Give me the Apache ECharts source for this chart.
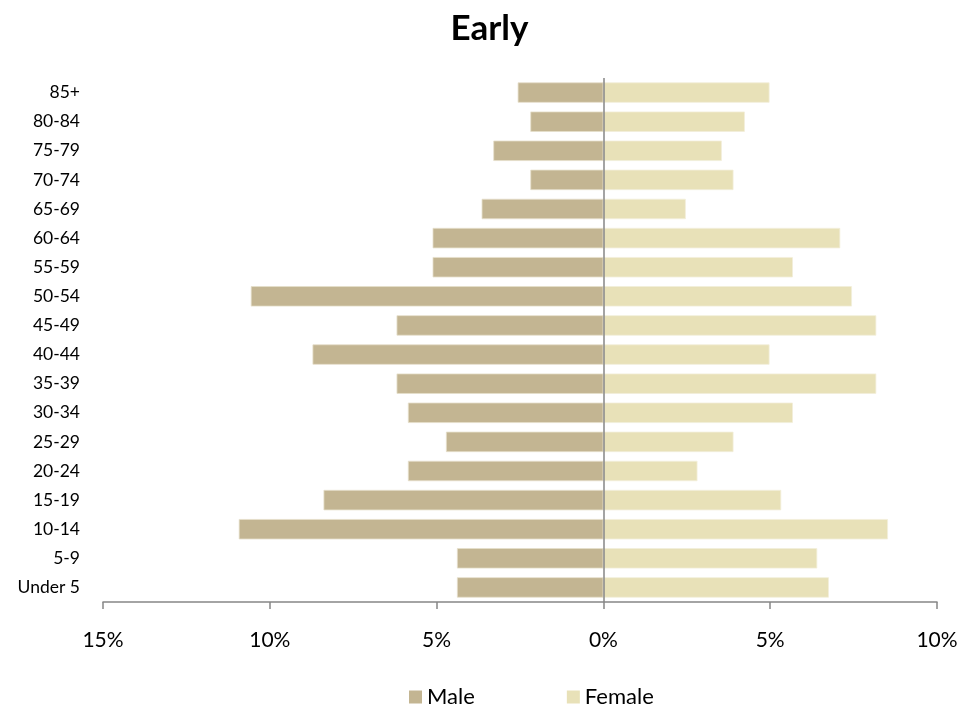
<!DOCTYPE html>
<html>
<head>
<meta charset="utf-8">
<script src="https://cdn.jsdelivr.net/npm/echarts@6/dist/echarts.min.js"></script>
<style>
html,body{margin:0;padding:0;background:#fff;}
#c{width:979px;height:713px;}
</style>
</head>
<body>
<div id="c"></div>
<script>
var categories = ['Under 5','5-9','10-14','15-19','20-24','25-29','30-34','35-39','40-44','45-49','50-54','55-59','60-64','65-69','70-74','75-79','80-84','85+'];
var maleValues = [4.39,4.39,10.93,8.39,5.86,4.72,5.86,6.2,8.72,6.2,10.57,5.12,5.12,3.65,2.19,3.3,2.19,2.57];
var femaleValues = [6.76,6.41,8.53,5.33,2.82,3.9,5.68,8.18,4.98,8.18,7.45,5.68,7.1,2.47,3.9,3.55,4.24,4.98];
var titleText = 'Early';
var seriesNames = ['Male','Female'];

var font = 'Lato, "Open Sans", sans-serif';
var chart = echarts.init(document.getElementById('c'));
chart.setOption({
  animation: false,
  title: {
    text: titleText, left: 'center', top: 6,
    textStyle: {fontFamily: font, fontWeight: 'bold', fontSize: 35, color: '#000'}
  },
  legend: {
    bottom: 0, left: 404, itemWidth: 13, itemHeight: 13, itemGap: 92,
    icon: 'rect',
    itemStyle: {borderWidth: 0},
    textStyle: {fontFamily: font, fontSize: 22, color: '#000'},
    data: seriesNames
  },
  grid: {left: 103, right: 42, top: 78, bottom: 111, containLabel: false},
  xAxis: {
    type: 'value', min: -15, max: 10, interval: 5,
    axisLine: {show: true, onZero: false, lineStyle: {color: '#868686', width: 1.5}},
    axisTick: {show: true, length: 7, lineStyle: {color: '#868686', width: 1.5}},
    splitLine: {show: false},
    axisLabel: {
      margin: 28, fontFamily: font, fontSize: 21, color: '#000',
      formatter: function (v) { return Math.abs(v) + '%'; }
    }
  },
  yAxis: {
    type: 'category', data: categories,
    axisLine: {show: false}, axisTick: {show: false},
    axisLabel: {margin: 23, fontFamily: font, fontSize: 17.5, color: '#000'}
  },
  series: [
    {
      name: seriesNames[0], type: 'bar', stack: 'pop', data: maleValues.map(function (v) { return -v; }),
      barCategoryGap: '30%',
      itemStyle: {color: '#C3B592', borderColor: '#E6DFCC', borderWidth: 0.8},
      markLine: {
        silent: true, symbol: 'none', label: {show: false},
        lineStyle: {color: '#868686', width: 1.5, type: 'solid'},
        data: [{xAxis: 0}]
      }
    },
    {
      name: seriesNames[1], type: 'bar', stack: 'pop', data: femaleValues,
      barCategoryGap: '30%',
      itemStyle: {color: '#E8E1B8', borderColor: '#F3EFDA', borderWidth: 0.8}
    }
  ]
});
</script>
</body>
</html>
